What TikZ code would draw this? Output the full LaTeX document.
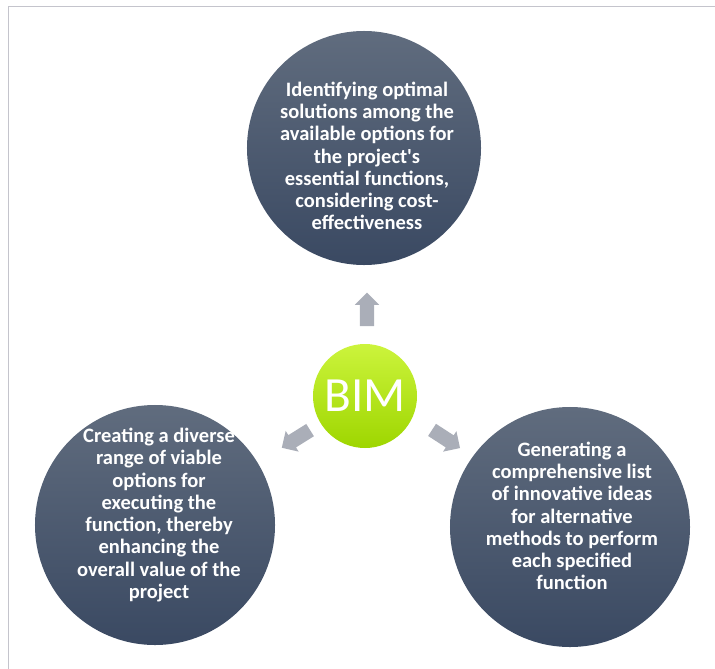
\documentclass[tikz,border=0pt]{standalone}
\usepackage{fontspec}
\setmainfont{Carlito}
\usetikzlibrary{positioning,calc,shapes.arrows}

\definecolor{slatetop}{RGB}{96,108,126}
\definecolor{slatebot}{RGB}{58,73,98}
\definecolor{limetop}{RGB}{204,244,60}
\definecolor{limebot}{RGB}{158,214,0}
\definecolor{arrowgrey}{RGB}{170,174,184}
\definecolor{framegrey}{RGB}{196,196,204}

\begin{document}
\begin{tikzpicture}[x=0.03cm, y=-0.03cm,
    idea/.style={circle, top color=slatetop, bottom color=slatebot, minimum size=7.02cm, inner sep=0pt},
    ideatext/.style={text=white, font=\fontsize{17.5}{19}\selectfont\bfseries, align=center, inner sep=0pt},
    core/.style={circle, top color=limetop, bottom color=limebot, minimum size=3.12cm,
                 text=white, font=\fontsize{42}{44}\selectfont, inner sep=0pt},
    blockarrow/.style={single arrow, fill=arrowgrey, minimum height=1cm, inner xsep=0pt,
                 inner ysep=0.21cm, single arrow head extend=0.15cm}]
    \useasboundingbox (0,0) rectangle (715,669);
    \draw[framegrey, line width=0.8pt] (8,669) -- (8,6) -- (715,6);

    \node[idea] (optimal) at (364,148) {};
    \node[idea, minimum size=7.2cm] (options) at (155,525) {};
    \node[idea, minimum size=7.2cm] (ideas) at (570,527) {};

    \node[ideatext] (optimal-txt) at ($(optimal)+(3,8)$) {Identifying optimal\\solutions among the\\available options for\\the project\textquotesingle s\\essential functions,\\considering cost-\\effectiveness};
    \node[ideatext] (options-txt) at ($(options)+(4,-10)$) {Creating a diverse\\range of viable\\options for\\executing the\\function, thereby\\enhancing the\\overall value of the\\project};
    \node[ideatext] (ideas-txt) at ($(ideas)+(2,-11)$) {Generating a\\comprehensive list\\of innovative ideas\\for alternative\\methods to perform\\each specified\\function};

    \node[core] (bim) at (365,396) {BIM};

    \node[blockarrow, rotate=90] (toup) at (367,313) {};
    \node[blockarrow, rotate=212] (toleft) at (299,437) {};
    \node[blockarrow, rotate=-33] (toright) at (443,437) {};
\end{tikzpicture}
\end{document}
